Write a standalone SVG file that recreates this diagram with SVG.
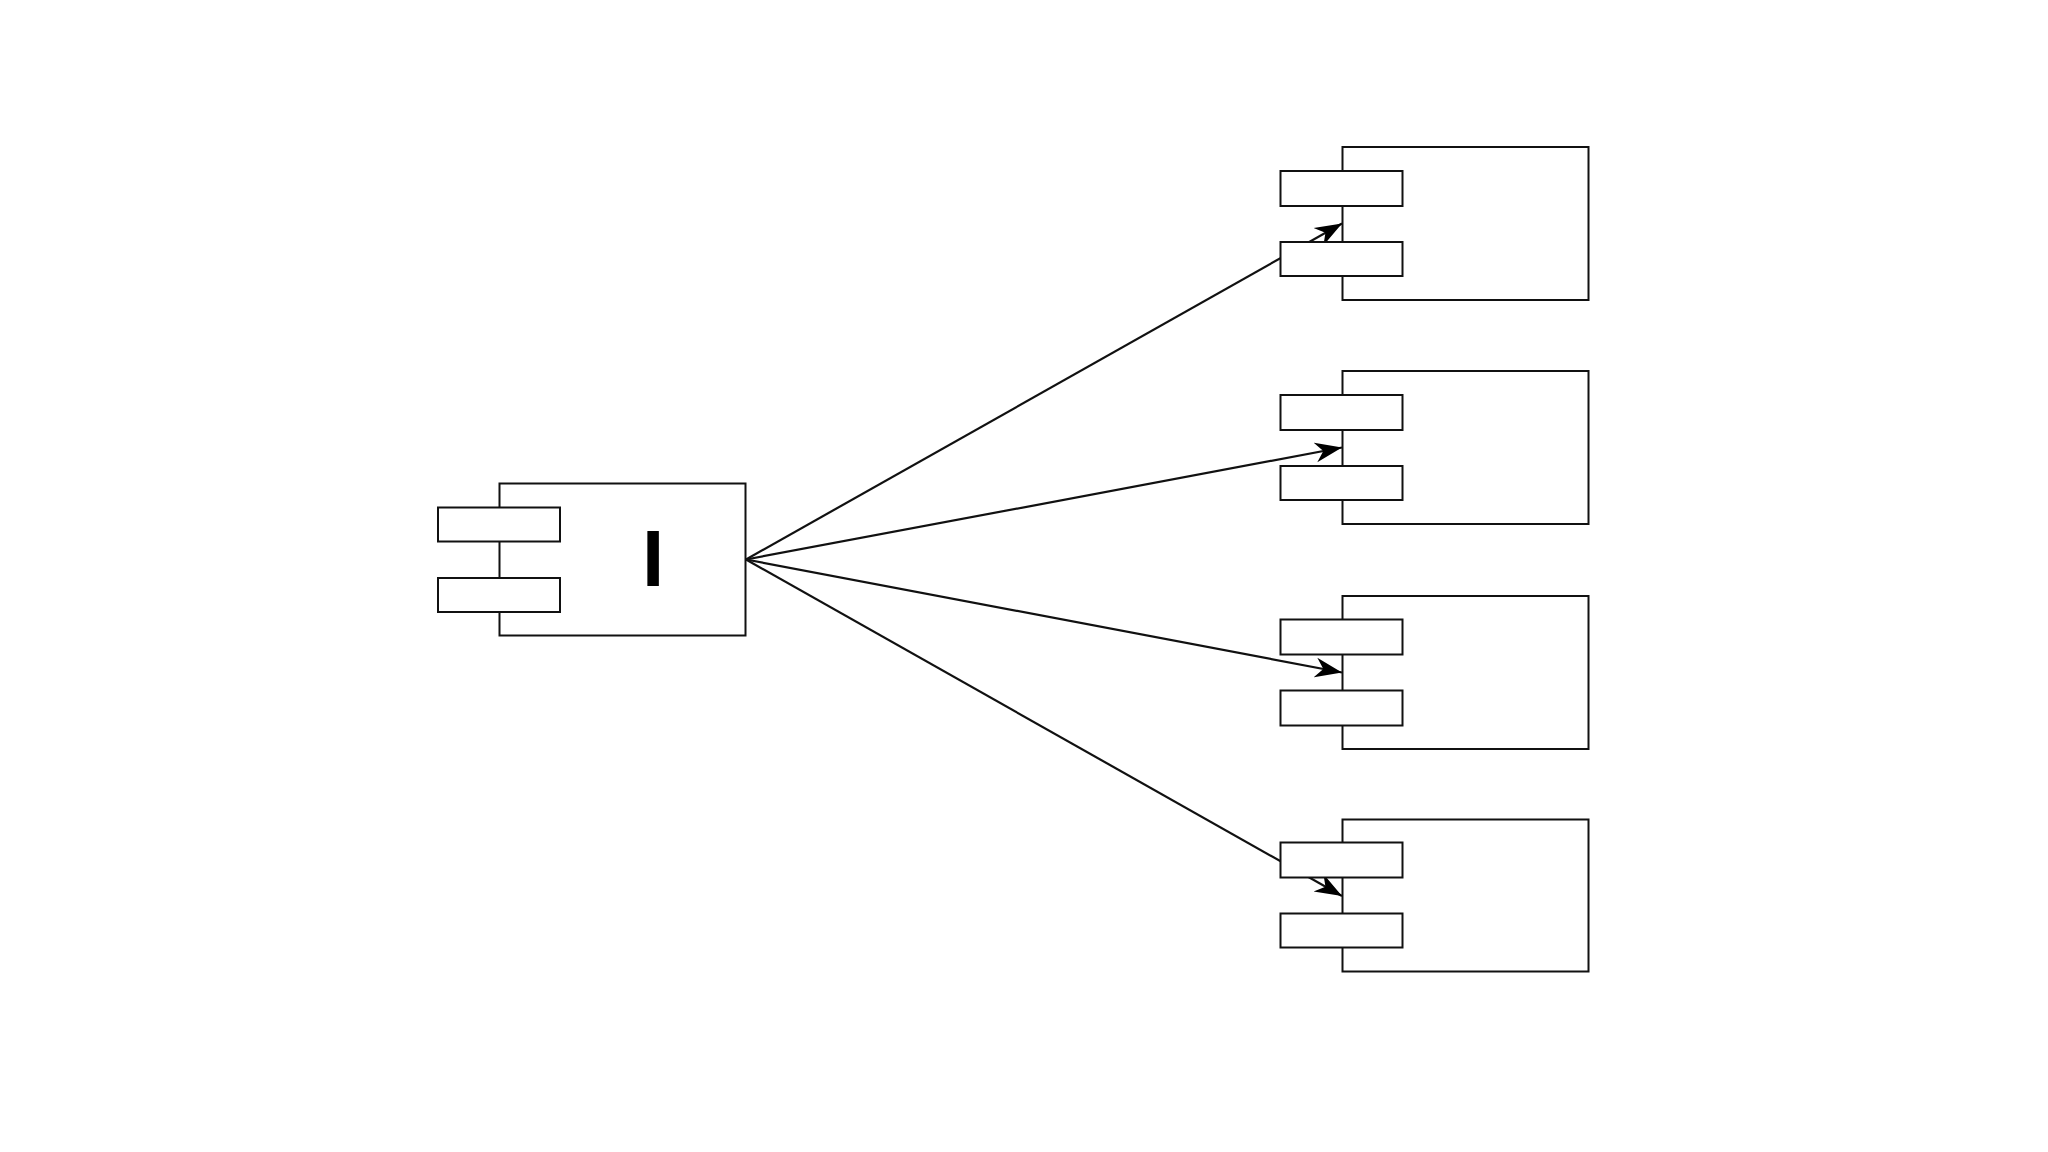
<svg xmlns="http://www.w3.org/2000/svg" width="2048" height="1152" viewBox="0 0 2048 1152">
  <style>
    .box { fill: #ffffff; stroke: #111111; stroke-width: 2; }
    .edge { fill: none; stroke: #111111; stroke-width: 2.2; }
    .label { font-family: "Liberation Sans", Arial, sans-serif; font-weight: bold; font-size: 80px; fill: #000; }
  </style>
  <defs>
    <marker id="arrow" markerUnits="userSpaceOnUse" markerWidth="28" markerHeight="22" refX="27" refY="11" orient="auto" viewBox="0 0 28 22">
      <path d="M0,1 L27,11 L0,21 L8,11 Z" fill="#000"/>
    </marker>
  </defs>
  <rect width="2048" height="1152" fill="#ffffff"/>
  <g id="connectors">
    <path class="edge" d="M746,559.5 L1342,223.5" marker-end="url(#arrow)"/>
    <path class="edge" d="M746,559.5 L1342,447.5" marker-end="url(#arrow)"/>
    <path class="edge" d="M746,559.5 L1342,672.5" marker-end="url(#arrow)"/>
    <path class="edge" d="M746,559.5 L1342,896" marker-end="url(#arrow)"/>
  </g>
  <g id="source">
    <rect class="box" x="499.5" y="483.5" width="246" height="152"/>
    <rect class="box" x="438" y="507.5" width="122" height="34"/>
    <rect class="box" x="438" y="578" width="122" height="34"/>
    <text class="label" x="653" y="586" text-anchor="middle">I</text>
  </g>
  <g id="target1">
    <rect class="box" x="1342.5" y="147" width="246" height="153"/>
    <rect class="box" x="1280.5" y="171" width="122" height="35"/>
    <rect class="box" x="1280.5" y="242" width="122" height="34"/>
  </g>
  <g id="target2">
    <rect class="box" x="1342.5" y="371" width="246" height="153"/>
    <rect class="box" x="1280.5" y="395" width="122" height="35"/>
    <rect class="box" x="1280.5" y="466" width="122" height="34"/>
  </g>
  <g id="target3">
    <rect class="box" x="1342.5" y="596" width="246" height="153"/>
    <rect class="box" x="1280.5" y="619.5" width="122" height="35"/>
    <rect class="box" x="1280.5" y="690.5" width="122" height="35"/>
  </g>
  <g id="target4">
    <rect class="box" x="1342.5" y="819.5" width="246" height="152"/>
    <rect class="box" x="1280.5" y="842.5" width="122" height="35"/>
    <rect class="box" x="1280.5" y="913.5" width="122" height="34"/>
  </g>
</svg>
